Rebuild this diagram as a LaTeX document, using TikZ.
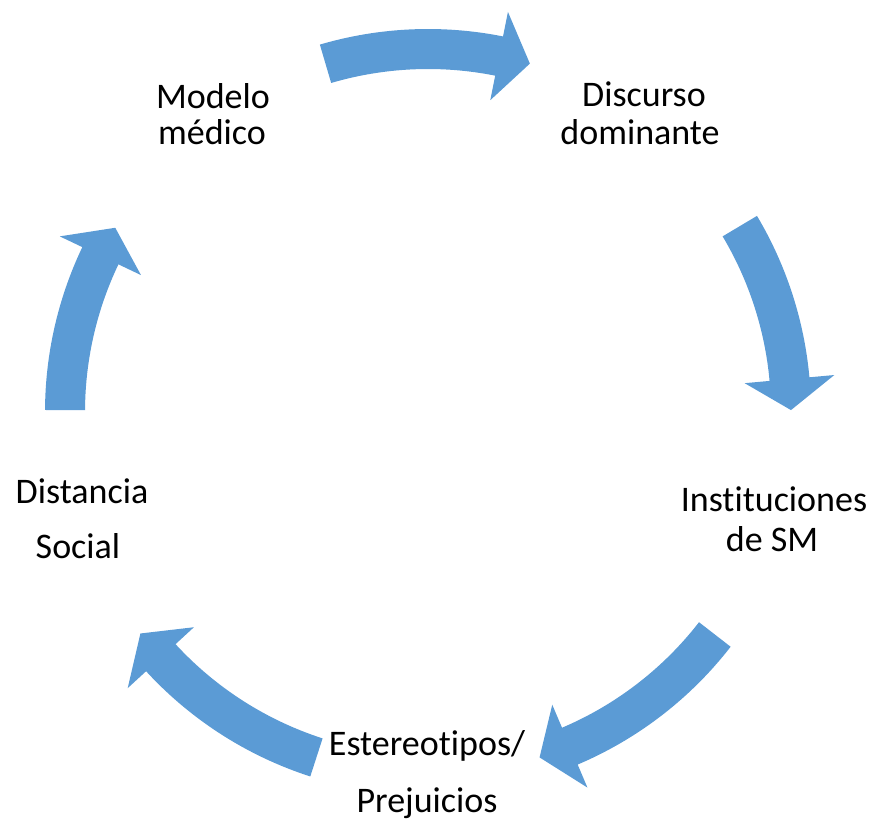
\documentclass[tikz,border=0pt]{standalone}
\usepackage{fontspec}
\setmainfont{Carlito}[RawFeature={-liga;-clig;-dlig;-calt}]
\definecolor{arrowblue}{HTML}{5B9BD5}
\tikzset{
  lbl/.style={anchor=base, inner sep=0pt, font=\fontsize{36}{36}\selectfont, text=black},
  blockarrow/.style={fill=arrowblue, draw=none}
}
% #1 start angle, #2 head base angle, #3 tip angle
\newcommand{\cycarrow}[3]{%
  \fill[blockarrow] (#1:383pt) arc[start angle=#1, end angle=#2, radius=383pt]
    -- (#2:408pt) -- (#3:363pt) -- (#2:318pt) -- (#2:343pt)
    arc[start angle=#2, end angle=#1, radius=343pt] -- cycle;}
\begin{document}
\begin{tikzpicture}[x=1pt,y=1pt]
\useasboundingbox (0,0) rectangle (872,820);
\begin{scope}[shift={(428,408)}]
  \cycarrow{106.4}{78.7}{73.7}
  \cycarrow{30.8}{5.2}{0.3}
  \cycarrow{-37.8}{-67}{-72.1}
  \cycarrow{252.1}{222.6}{217.6}
  \cycarrow{179.7}{154.5}{149.5}
\end{scope}
\node[lbl] (modeloA) at (213,711) {Modelo};
\node[lbl] (modeloB) at (212,675) {médico};
\node[lbl] (discursoA) at (644,713) {Discurso};
\node[lbl] (discursoB) at (640,675) {dominante};
\node[lbl] (instA) at (774,309) {Instituciones};
\node[lbl] (instB) at (772,269) {de SM};
\node[lbl] (distA) at (82,317) {Distancia};
\node[lbl] (distB) at (78,262) {Social};
\node[lbl] (esteA) at (427,65) {Estereotipos/};
\node[lbl] (esteB) at (427,8) {Prejuicios};
\end{tikzpicture}
\end{document}
